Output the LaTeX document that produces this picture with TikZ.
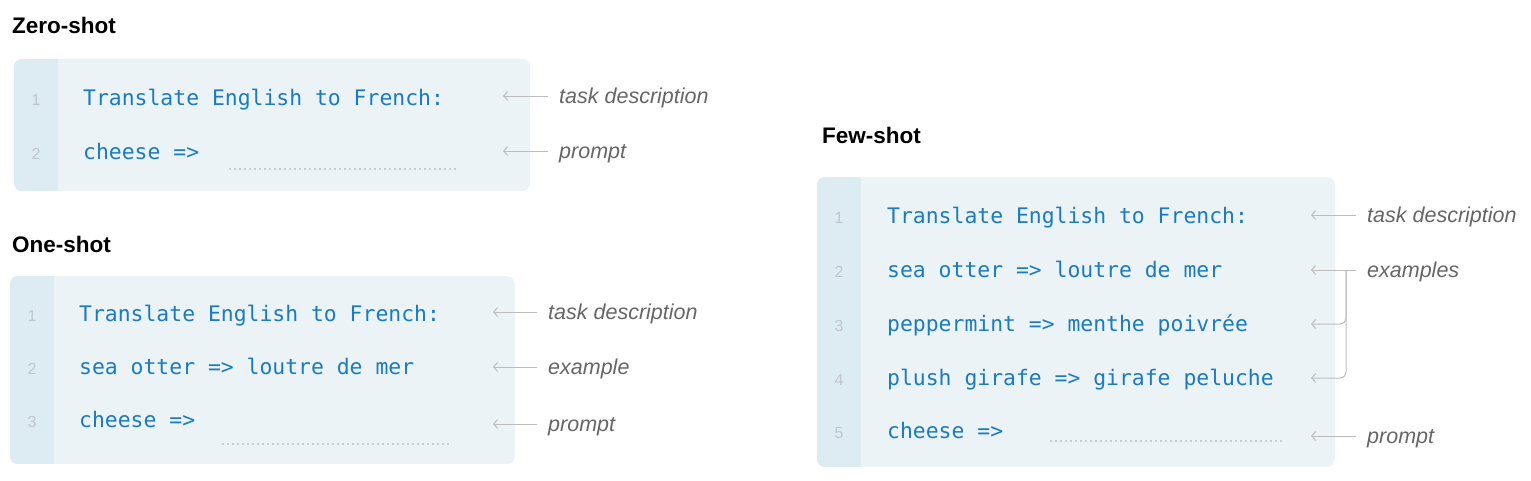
\documentclass[tikz,border=0pt]{standalone}
\usepackage{fontspec}
\setmainfont{Liberation Sans}
\newfontfamily\codefont{DejaVu Sans Mono}
\usetikzlibrary{positioning,arrows.meta}
\definecolor{boxbg}{HTML}{EBF3F7}
\definecolor{gutterbg}{HTML}{DDEBF3}
\definecolor{codeblue}{HTML}{1B7BBD}
\definecolor{notegray}{HTML}{666666}
\definecolor{pointgray}{HTML}{BDBDBD}
\definecolor{numgray}{HTML}{BFC7CB}
\definecolor{blankgray}{HTML}{C9CDD0}
\tikzset{
  title/.style={anchor=base west,inner sep=0,font=\bfseries\fontsize{22.5}{26}\selectfont},
  code/.style={anchor=base west,inner sep=0,text=codeblue,font=\codefont\fontsize{21.4}{24}\selectfont},
  lineno/.style={anchor=base,inner sep=0,text=numgray,font=\fontsize{16}{18}\selectfont},
  note/.style={inner xsep=11pt,inner ysep=0pt,text height=18pt,text depth=4pt,text=notegray,font=\itshape\fontsize{21.5}{25}\selectfont},
  pointer/.style={draw=pointgray,line width=1pt,-{Straight Barb[length=4pt,width=9pt]}},
  blank/.style={draw=blankgray,line width=2pt,dash pattern=on 2pt off 3pt},
  node distance=45pt
}
\begin{document}
\begin{tikzpicture}[x=1pt,y=-1pt]
\useasboundingbox (0,0) rectangle (1531,480);
% zero-shot
\node[title] (zTitle) at (12,33) {Zero-shot};
\begin{scope}
  \clip[rounded corners=8pt] (14,59) rectangle (530,191);
  \fill[boxbg] (14,59) rectangle (530,191);
  \fill[gutterbg] (14,59) rectangle (58,191);
\end{scope}
\foreach \n/\y in {1/105,2/159} \node[lineno] (zN\n) at (36,\y) {\n};
\node[code] (zL1) at (83,105) {Translate English to French:};
\node[code] (zL2) at (83,159) {cheese =>};
\draw[blank] (229,169) -- (457,169);
\coordinate (zTip1) at (503,96);
\coordinate (zTip2) at (503,151);
\node[note,right=of zTip1] (zTask) {task description};
\node[note,right=of zTip2] (zPrompt) {prompt};
\draw[pointer] (zTask) -- (zTip1);
\draw[pointer] (zPrompt) -- (zTip2);
% one-shot
\node[title] (oTitle) at (12,252) {One-shot};
\begin{scope}
  \clip[rounded corners=8pt] (10,276) rectangle (515,464);
  \fill[boxbg] (10,276) rectangle (515,464);
  \fill[gutterbg] (10,276) rectangle (54,464);
\end{scope}
\foreach \n/\y in {1/321,2/374,3/427} \node[lineno] (oN\n) at (32,\y) {\n};
\node[code] (oL1) at (79,321) {Translate English to French:};
\node[code] (oL2) at (79,374) {sea otter => loutre de mer};
\node[code] (oL3) at (79,427) {cheese =>};
\draw[blank] (222,444) -- (450,444);
\coordinate (oTip1) at (493,312);
\coordinate (oTip2) at (493,367);
\coordinate (oTip3) at (493,424);
\node[note,right=44pt of oTip1] (oTask) {task description};
\node[note,right=44pt of oTip2] (oExample) {example};
\node[note,right=44pt of oTip3] (oPrompt) {prompt};
\draw[pointer] (oTask) -- (oTip1);
\draw[pointer] (oExample) -- (oTip2);
\draw[pointer] (oPrompt) -- (oTip3);
% few-shot
\node[title] (fTitle) at (822,143) {Few-shot};
\begin{scope}
  \clip[rounded corners=8pt] (817,177) rectangle (1335,467);
  \fill[boxbg] (817,177) rectangle (1335,467);
  \fill[gutterbg] (817,177) rectangle (861,467);
\end{scope}
\foreach \n/\y/\txt in {1/223/{Translate English to French:},2/277/{sea otter => loutre de mer},
  3/331/{peppermint => menthe poivrée},4/385/{plush girafe => girafe peluche},5/438/{cheese =>}}{
  \node[lineno] (fN\n) at (839,\y) {\n};
  \node[code] (fL\n) at (887,\y) {\txt};
}
\draw[blank] (1050,441) -- (1282,441);
\foreach \n/\y in {1/215,2/270,3/324,4/378,5/436} \coordinate (fTip\n) at (1311,\y);
\coordinate (fJoin) at (1346,270);
\node[note,right=of fTip1] (fTask) {task description};
\node[note,right=of fTip2] (fExamples) {examples};
\node[note,right=of fTip5] (fPrompt) {prompt};
\draw[pointer] (fTask) -- (fTip1);
\draw[pointer] (fExamples) -- (fTip2);
\draw[pointer,rounded corners=6pt] (fJoin) |- (fTip3);
\draw[pointer,rounded corners=6pt] (fJoin) |- (fTip4);
\draw[pointer] (fPrompt) -- (fTip5);
\end{tikzpicture}
\end{document}
